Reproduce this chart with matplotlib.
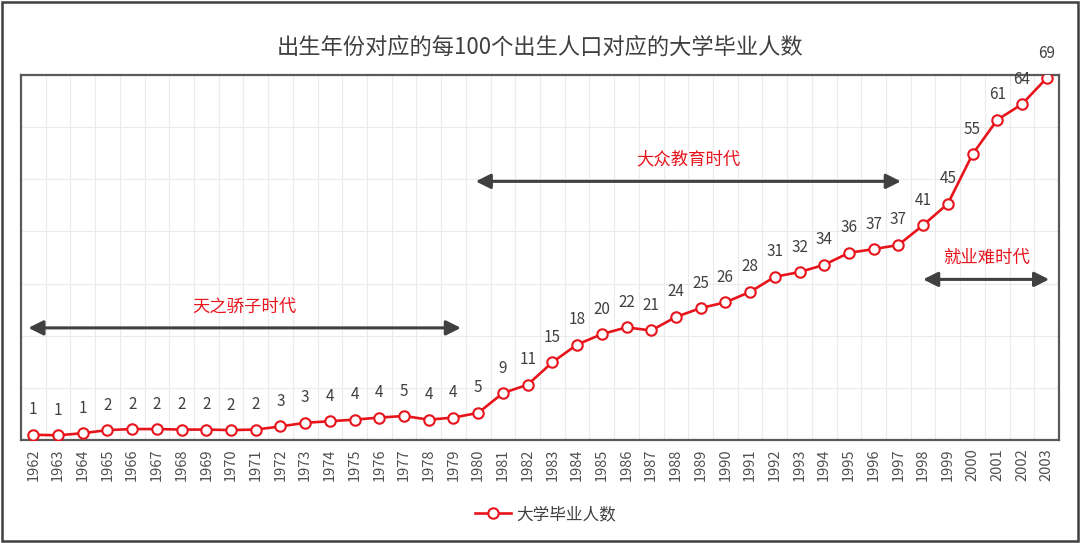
import matplotlib.pyplot as plt
import numpy as np
from matplotlib.patches import Rectangle

plt.rcParams['font.family'] = ['Noto Sans CJK SC', 'DejaVu Sans']

# data
years = list(range(1962, 2004))
values = [1.0, 0.9, 1.3, 1.9, 2.1, 2.1, 2.0, 2.0, 1.9, 2.0,
          2.6, 3.3, 3.6, 3.9, 4.3, 4.6, 3.9, 4.3, 5.2, 9.0,
          10.6, 14.9, 18.3, 20.3, 21.6, 21.0, 23.6, 25.3, 26.4, 28.4,
          31.3, 32.2, 33.6, 35.9, 36.6, 37.4, 41.2, 45.3, 54.8, 61.4,
          64.4, 69.4]

title = '出生年份对应的每100个出生人口对应的大学毕业人数'
series_name = '大学毕业人数'
eras = ['天之骄子时代', '大众教育时代', '就业难时代']
era_start = [1961.8, 1979.9, 1998.0]
era_end = [1979.3, 1997.1, 2003.1]
era_arrow_y = [21.5, 49.6, 30.8]
era_text_y = [25.5, 53.8, 35.0]

red = '#e8141c'
gray = '#404040'

fig = plt.figure(figsize=(10.8, 5.43), dpi=100)
ax = fig.add_axes([0.0194, 0.1897, 0.9612, 0.6722])

x = np.arange(len(years))
ax.plot(x, values, color=red, lw=1.9, marker='o', ms=7.5,
        mfc='white', mec=red, mew=1.5, label=series_name, zorder=3)

for xi, v in zip(x, values):
    ax.annotate('%d' % round(v), (xi, v), xytext=(0, 18), textcoords='offset points',
                ha='center', va='center', fontsize=11, color=gray, annotation_clip=False)

ax.set_xlim(-0.5, len(years) - 0.5)
ax.set_ylim(0, 70)
ax.set_xticks(x)
ax.set_xticklabels([str(y) for y in years], rotation=90, fontsize=10.5, color='#505050')
ax.set_xticks(np.arange(-0.5, len(years), 1), minor=True)
ax.set_yticks(np.arange(0, 71, 10))
ax.set_yticklabels([])
ax.tick_params(axis='both', which='both', length=0)
ax.tick_params(axis='x', pad=6)
ax.grid(True, axis='x', which='minor', color='#ebebeb', lw=0.8)
ax.grid(True, axis='y', which='major', color='#ebebeb', lw=0.8)
ax.set_axisbelow(True)
for s in ax.spines.values():
    s.set_color('#595959')
    s.set_linewidth(1.6)

# era arrows
for name, x0, x1, ya, yt in zip(eras, era_start, era_end, era_arrow_y, era_text_y):
    p0 = x0 - years[0]
    p1 = x1 - years[0]
    ax.annotate('', xy=(p0, ya), xytext=(p1, ya),
                arrowprops=dict(arrowstyle='<|-|>', color=gray, lw=2.2,
                                mutation_scale=22, shrinkA=0, shrinkB=0))
    ax.text((p0 + p1) / 2, yt, name, ha='center', va='center', fontsize=12.5,
            color=red, fontweight='medium')

fig.suptitle(title, y=0.935, fontsize=16, color=gray)
fig.legend(loc='center', bbox_to_anchor=(0.505, 0.052), frameon=False,
           fontsize=12, labelcolor=gray, handlelength=2.2, handletextpad=0.3)

fig.patches.append(Rectangle((0.002, 0.003), 0.996, 0.994, transform=fig.transFigure,
                             fill=False, edgecolor='#404040', lw=1.8))

fig.savefig('out.png', dpi=100)
